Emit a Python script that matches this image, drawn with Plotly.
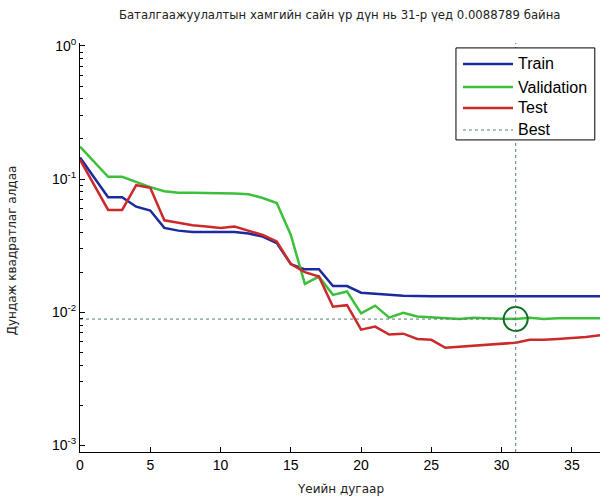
import plotly.graph_objects as go

epochs = list(range(0, 38))
train = [0.145, 0.103, 0.073, 0.073, 0.062, 0.058, 0.043, 0.041, 0.040, 0.040,
         0.040, 0.040, 0.039, 0.037, 0.033, 0.023, 0.021, 0.021, 0.0157, 0.0157,
         0.0140, 0.0137, 0.0135, 0.0133, 0.0132, 0.0132, 0.0132, 0.0132, 0.0132, 0.0132,
         0.0132, 0.0132, 0.0132, 0.0132, 0.0132, 0.0132, 0.0132, 0.0132]
validation = [0.175, 0.135, 0.104, 0.104, 0.095, 0.087, 0.081, 0.079, 0.079, 0.079,
              0.079, 0.078, 0.077, 0.072, 0.066, 0.038, 0.0163, 0.0185, 0.0135, 0.0143,
              0.0098, 0.0112, 0.0091, 0.0099, 0.0093, 0.0092, 0.0090, 0.0089, 0.0091, 0.0090,
              0.0089, 0.0088789, 0.0091, 0.0089, 0.0090, 0.0090, 0.0090, 0.0090]
test = [0.140, 0.0906, 0.0586, 0.0586, 0.090, 0.086, 0.049, 0.047, 0.045, 0.044,
        0.043, 0.044, 0.041, 0.038, 0.034, 0.023, 0.020, 0.0185, 0.0110, 0.0113,
        0.0074, 0.0078, 0.0068, 0.0069, 0.0063, 0.0062, 0.0054, 0.0055, 0.0056, 0.0057,
        0.0058, 0.0059, 0.0062, 0.0062, 0.0063, 0.0064, 0.0065, 0.0067]
best_epoch = 31
best_value = 0.0088789

x_ticks = [0, 5, 10, 15, 20, 25, 30, 35]
y_ticks = [1e-3, 1e-2, 1e-1, 1e0]
y_ticktext = ["10<sup>-3</sup>", "10<sup>-2</sup>", "10<sup>-1</sup>", "10<sup>0</sup>"]
y_minor = [k * 10.0 ** n for n in (-3, -2, -1) for k in range(2, 10)]

legend_names = ["Train", "Validation", "Test", "Best"]

title_text = "Баталгаажуулалтын хамгийн сайн үр дүн нь 31-р үед 0.0088789 байна"
x_title = "Үеийн дугаар"
y_title = "Дундаж квадратлаг алдаа"

BLUE = "#1b2a9e"
GREEN = "#3cc03c"
RED = "#cc2a2a"
BEST = "#5a7f6a"
legend_colors = [BLUE, GREEN, RED, BEST]
legend_dash = ["solid", "solid", "solid", "dot"]
legend_width = [2.5, 2.5, 2.5, 1]

fig = go.Figure()
fig.add_trace(go.Scatter(x=epochs, y=train, mode="lines", name="Train",
                         line=dict(color=BLUE, width=2.5)))
fig.add_trace(go.Scatter(x=epochs, y=validation, mode="lines", name="Validation",
                         line=dict(color=GREEN, width=2.5)))
fig.add_trace(go.Scatter(x=epochs, y=test, mode="lines", name="Test",
                         line=dict(color=RED, width=2.5)))
fig.add_trace(go.Scatter(x=[0, best_epoch], y=[best_value, best_value], mode="lines",
                         name="Best", line=dict(color=BEST, width=1, dash="dot")))
fig.add_trace(go.Scatter(x=[best_epoch], y=[best_value], mode="markers", name="Best point",
                         marker=dict(symbol="circle-open", size=24,
                                     line=dict(color="#0b6e22", width=2), color="#0b6e22")))

fig.add_shape(type="line", xref="x", yref="paper", x0=best_epoch, x1=best_epoch, y0=0, y1=1,
              line=dict(color=BEST, width=1, dash="dot"))

# Custom legend box (MATLAB style)
fig.add_shape(type="rect", xref="paper", yref="paper", x0=0.723, x1=0.990, y0=0.763, y1=0.988,
              line=dict(color="black", width=1), fillcolor="white", layer="above")
legend_rows = [0.9487, 0.8924, 0.8411, 0.7873]
annotations = []
for name, col, dash, w, yy in zip(legend_names, legend_colors, legend_dash, legend_width, legend_rows):
    fig.add_shape(type="line", xref="paper", yref="paper", x0=0.7365, x1=0.8327, y0=yy, y1=yy,
                  line=dict(color=col, width=w, dash=dash), layer="above")
    annotations.append(dict(text=name, xref="paper", yref="paper", x=0.8385, y=yy,
                            xanchor="left", yanchor="middle", showarrow=False,
                            font=dict(family="Liberation Sans, Arial, sans-serif", size=16,
                                      color="black")))

annotations += [
    dict(text=x_title, xref="paper", yref="paper", x=0.5, y=-0.09,
         xanchor="center", yanchor="middle", showarrow=False,
         font=dict(family="DejaVu Sans, sans-serif", size=12, color="#222")),
    dict(text=y_title, xref="paper", yref="paper", x=-0.13, y=0.494,
         xanchor="center", yanchor="middle", showarrow=False, textangle=-90,
         font=dict(family="DejaVu Sans, sans-serif", size=12, color="#222")),
]

fig.update_layout(
    width=611, height=502,
    margin=dict(l=80, r=11, t=43, b=50),
    paper_bgcolor="white", plot_bgcolor="white",
    showlegend=False,
    title=dict(text=title_text, x=0.556, xanchor="center", y=0.97, yanchor="middle",
               font=dict(family="DejaVu Sans, sans-serif", size=11.7, color="#222")),
    xaxis=dict(range=[0, 37], showline=True, linecolor="black", linewidth=1,
               ticks="inside", ticklen=5, tickcolor="black", tickvals=x_ticks,
               showgrid=False, zeroline=False,
               tickfont=dict(family="Liberation Sans, Arial, sans-serif", size=14, color="black")),
    yaxis=dict(type="log", range=[-3.05, 0.022], showline=True, linecolor="black", linewidth=1,
               ticks="inside", ticklen=5, tickcolor="black",
               tickvals=y_ticks, ticktext=y_ticktext,
               showgrid=False, zeroline=False,
               minor=dict(ticks="inside", ticklen=3, tickcolor="black", tickvals=y_minor,
                          showgrid=False),
               tickfont=dict(family="Liberation Sans, Arial, sans-serif", size=14, color="black")),
    annotations=annotations,
)

fig.write_html("out.html")
